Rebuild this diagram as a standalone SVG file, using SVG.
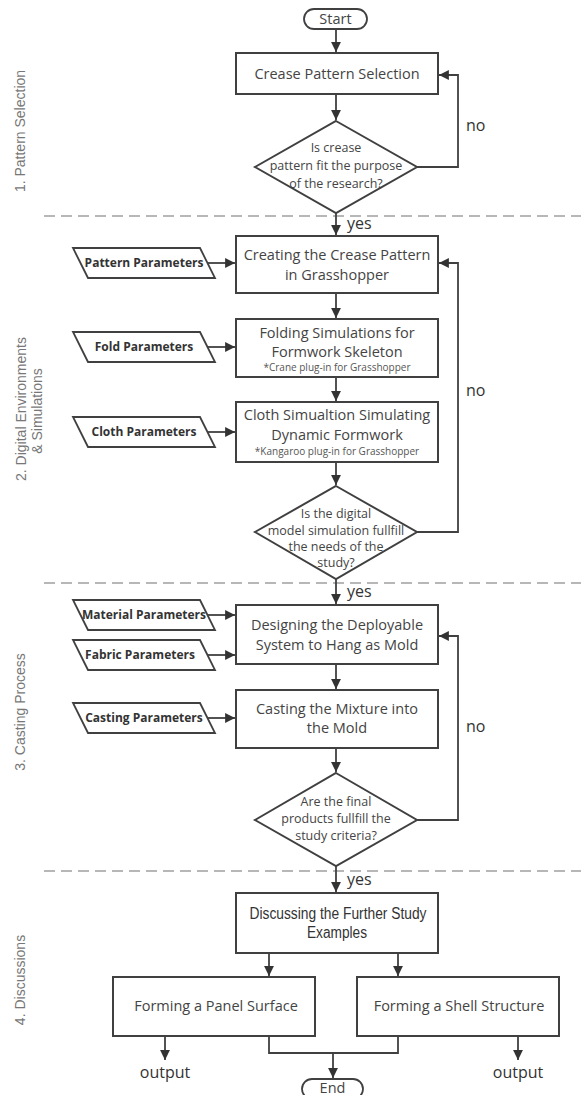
<svg xmlns="http://www.w3.org/2000/svg" width="581" height="1095" viewBox="0 0 581 1095">
<style>
.box{fill:#fff;stroke:#404040;stroke-width:2}
.term{fill:#fff;stroke:#404040;stroke-width:1.8}
.para{fill:#fff;stroke:#404040;stroke-width:1.8}
.ln{fill:none;stroke:#404040;stroke-width:1.8}
.dash{stroke:#a0a0a0;stroke-width:1.6;stroke-dasharray:11 6;fill:none}
.t{font-family:"Open Sans",sans-serif;font-size:14.5px;fill:#444;text-anchor:middle}
.s{font-family:"Open Sans",sans-serif;font-size:10px;fill:#555;text-anchor:middle}
.d{font-family:"Open Sans",sans-serif;font-size:12.5px;fill:#444;text-anchor:middle}
.p{font-family:"Open Sans",sans-serif;font-size:12px;font-weight:bold;fill:#333;text-anchor:middle}
.lab{font-family:"Open Sans",sans-serif;font-size:16px;fill:#333}
.sec{font-family:"Liberation Sans",Arial,sans-serif;font-size:14px;fill:#777;text-anchor:middle}
.n{font-family:"Liberation Sans",Arial,sans-serif;font-size:16px;fill:#333;text-anchor:middle}
</style>
<defs>
<marker id="ah" viewBox="0 0 10 10" refX="10" refY="5" markerWidth="5.5" markerHeight="5.5" orient="auto" markerUnits="strokeWidth">
<path d="M0,0 L10,5 L0,10 z" fill="#333"/>
</marker>
</defs>

<g id="sections">
<line class="dash" x1="44" y1="216" x2="581" y2="216"/>
<line class="dash" x1="44" y1="583" x2="581" y2="583"/>
<line class="dash" x1="44" y1="871" x2="581" y2="871"/>
<text class="sec" transform="translate(25,131) rotate(-90)">1. Pattern Selection</text>
<text class="sec" transform="translate(26,409) rotate(-90)">2. Digital Environments</text>
<text class="sec" transform="translate(42,411) rotate(-90)">&amp; Simulations</text>
<text class="sec" transform="translate(25,712) rotate(-90)">3. Casting Process</text>
<text class="sec" transform="translate(25,980) rotate(-90)">4. Discussions</text>
</g>

<g id="connectors">
<line class="ln" x1="336" y1="29" x2="336" y2="52" marker-end="url(#ah)"/>
<line class="ln" x1="336" y1="94" x2="336" y2="120" marker-end="url(#ah)"/>
<polyline class="ln" points="417,167 458,167 458,75 439,75" marker-end="url(#ah)"/>
<line class="ln" x1="336" y1="213" x2="336" y2="235" marker-end="url(#ah)"/>
<line class="ln" x1="208" y1="263" x2="235" y2="263" marker-end="url(#ah)"/>
<line class="ln" x1="336" y1="293" x2="336" y2="318" marker-end="url(#ah)"/>
<line class="ln" x1="208" y1="347" x2="235" y2="347" marker-end="url(#ah)"/>
<line class="ln" x1="336" y1="377" x2="336" y2="401" marker-end="url(#ah)"/>
<line class="ln" x1="208" y1="432" x2="235" y2="432" marker-end="url(#ah)"/>
<line class="ln" x1="336" y1="462" x2="336" y2="485" marker-end="url(#ah)"/>
<polyline class="ln" points="417,532 458,532 458,263 439,263" marker-end="url(#ah)"/>
<line class="ln" x1="336" y1="579" x2="336" y2="604" marker-end="url(#ah)"/>
<line class="ln" x1="208" y1="615" x2="235" y2="615" marker-end="url(#ah)"/>
<line class="ln" x1="208" y1="655" x2="235" y2="655" marker-end="url(#ah)"/>
<line class="ln" x1="336" y1="664" x2="336" y2="689" marker-end="url(#ah)"/>
<line class="ln" x1="208" y1="718" x2="235" y2="718" marker-end="url(#ah)"/>
<line class="ln" x1="336" y1="748" x2="336" y2="772" marker-end="url(#ah)"/>
<polyline class="ln" points="417,820 458,820 458,636 439,636" marker-end="url(#ah)"/>
<line class="ln" x1="336" y1="866" x2="336" y2="892" marker-end="url(#ah)"/>
<line class="ln" x1="269" y1="953" x2="269" y2="976" marker-end="url(#ah)"/>
<line class="ln" x1="398" y1="953" x2="398" y2="976" marker-end="url(#ah)"/>
<line class="ln" x1="165" y1="1036" x2="165" y2="1060" marker-end="url(#ah)"/>
<line class="ln" x1="518" y1="1036" x2="518" y2="1060" marker-end="url(#ah)"/>
<polyline class="ln" points="269,1036 269,1053 398,1053 398,1036"/>
<line class="ln" x1="333" y1="1053" x2="333" y2="1078" marker-end="url(#ah)"/>
<text class="lab" x="466" y="131">no</text>
<text class="lab" x="466" y="396">no</text>
<text class="lab" x="466" y="732">no</text>
<text class="lab" x="347" y="229">yes</text>
<text class="lab" x="347" y="597">yes</text>
<text class="lab" x="347" y="885">yes</text>
<text class="lab" x="165" y="1078" text-anchor="middle">output</text>
<text class="lab" x="518" y="1078" text-anchor="middle">output</text>
</g>

<g id="start">
<rect class="term" x="304" y="9" width="63" height="20" rx="10"/>
<text class="t" x="335.5" y="24">Start</text>
</g>

<g id="crease-pattern-selection">
<rect class="box" x="236" y="53" width="202" height="41"/>
<text class="t" x="337" y="79">Crease Pattern Selection</text>
</g>

<g id="decision-1">
<polygon class="box" points="336,121 417,167 336,213 255,167"/>
<text class="d" x="336" y="152">Is crease</text>
<text class="d" x="336" y="170">pattern fit the purpose</text>
<text class="d" x="336" y="188">of the research?</text>
</g>

<g id="pattern-parameters">
<polygon class="para" points="73,248 200,248 215,278 88,278"/>
<text class="p" x="144" y="267">Pattern Parameters</text>
</g>

<g id="creating-crease-pattern">
<rect class="box" x="236" y="236" width="202" height="57"/>
<text class="t" x="337" y="260">Creating the Crease Pattern</text>
<text class="t" x="337" y="280">in Grasshopper</text>
</g>

<g id="fold-parameters">
<polygon class="para" points="73,332 200,332 215,362 88,362"/>
<text class="p" x="144" y="351">Fold Parameters</text>
</g>

<g id="folding-simulations">
<rect class="box" x="236" y="319" width="202" height="58"/>
<text class="t" x="337" y="338">Folding Simulations for</text>
<text class="t" x="337" y="357">Formwork Skeleton</text>
<text class="s" x="337" y="371">*Crane plug-in for Grasshopper</text>
</g>

<g id="cloth-parameters">
<polygon class="para" points="73,417 200,417 215,447 88,447"/>
<text class="p" x="144" y="436">Cloth Parameters</text>
</g>

<g id="cloth-simulation">
<rect class="box" x="236" y="402" width="202" height="60"/>
<text class="t" x="337" y="420">Cloth Simualtion Simulating</text>
<text class="t" x="337" y="440">Dynamic Formwork</text>
<text class="s" x="337" y="455">*Kangaroo plug-in for Grasshopper</text>
</g>

<g id="decision-2">
<polygon class="box" points="336,486 417,532 336,579 255,532"/>
<text class="d" x="336" y="518">Is the digital</text>
<text class="d" x="336" y="535">model simulation fullfill</text>
<text class="d" x="336" y="551">the needs of the</text>
<text class="d" x="336" y="567">study?</text>
</g>

<g id="material-parameters">
<polygon class="para" points="73,600 200,600 215,630 88,630"/>
<text class="p" x="144" y="619">Material Parameters</text>
</g>

<g id="fabric-parameters">
<polygon class="para" points="73,640 200,640 215,670 88,670"/>
<text class="p" x="140" y="659">Fabric Parameters</text>
</g>

<g id="designing-system">
<rect class="box" x="236" y="605" width="202" height="59"/>
<text class="t" x="337" y="630">Designing the Deployable</text>
<text class="t" x="337" y="650">System to Hang as Mold</text>
</g>

<g id="casting-parameters">
<polygon class="para" points="73,703 200,703 215,733 88,733"/>
<text class="p" x="144" y="722">Casting Parameters</text>
</g>

<g id="casting-mixture">
<rect class="box" x="236" y="690" width="202" height="58"/>
<text class="t" x="337" y="714">Casting the Mixture into</text>
<text class="t" x="337" y="733">the Mold</text>
</g>

<g id="decision-3">
<polygon class="box" points="336,773 417,820 336,866 255,820"/>
<text class="d" x="336" y="806">Are the final</text>
<text class="d" x="336" y="823">products fullfill the</text>
<text class="d" x="336" y="840">study criteria?</text>
</g>

<g id="discussing">
<rect class="box" x="236" y="893" width="202" height="60"/>
<text class="n" x="338" y="919" textLength="177" lengthAdjust="spacingAndGlyphs">Discussing the Further Study</text>
<text class="n" x="337" y="938" textLength="60" lengthAdjust="spacingAndGlyphs">Examples</text>
</g>

<g id="panel-surface">
<rect class="box" x="113" y="977" width="202" height="59"/>
<text class="t" x="216" y="1011">Forming a Panel Surface</text>
</g>

<g id="shell-structure">
<rect class="box" x="357" y="977" width="202" height="59"/>
<text class="t" x="459" y="1011">Forming a Shell Structure</text>
</g>

<g id="end">
<rect class="term" x="302" y="1079" width="61" height="20" rx="10"/>
<text class="t" x="332.5" y="1093">End</text>
</g>
</svg>
